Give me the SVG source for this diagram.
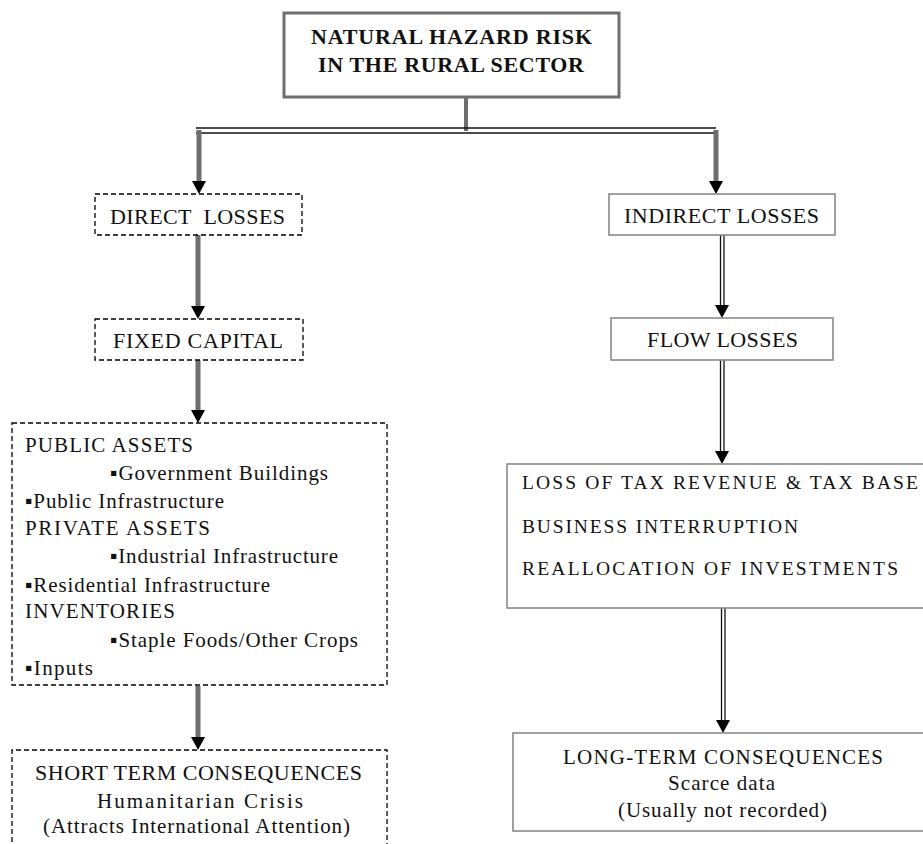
<svg xmlns="http://www.w3.org/2000/svg" width="923" height="844" viewBox="0 0 923 844">
<style>
  text { font-family: "Liberation Serif", "Times New Roman", serif; fill: #111; }
  .title { font-size: 22px; font-weight: bold; }
  .lbl { font-size: 22px; }
  .item { font-size: 21px; }
  .loss { font-size: 19.5px; }
  .lt { font-size: 21px; }
  .dash { fill: #fff; stroke: #000; stroke-width: 1.3; stroke-dasharray: 5 3; }
  .solid { fill: #fff; stroke: #8a8a8a; stroke-width: 1.6; }
  .thick { stroke: #6e6e6e; stroke-width: 5; fill: none; }
  .thin { stroke: #111; stroke-width: 1.3; fill: none; }
  .head { fill: #000; }
</style>
<rect width="923" height="844" fill="#fff"/>

<g id="connectors">
  <line class="thick" x1="466" y1="97" x2="466" y2="131" style="stroke-width:4"/>
  <line class="thin" x1="196" y1="128" x2="716" y2="128"/>
  <line class="thin" x1="196" y1="133" x2="716" y2="133"/>
  <line class="thick" x1="199" y1="130" x2="199" y2="182"/>
  <polygon class="head" points="192,181 206,181 199,194"/>
  <line class="thick" x1="198" y1="235" x2="198" y2="307"/>
  <polygon class="head" points="191,306 205,306 198,319"/>
  <line class="thick" x1="198" y1="360" x2="198" y2="411"/>
  <polygon class="head" points="191,410 205,410 198,423"/>
  <line class="thick" x1="198" y1="686" x2="198" y2="738"/>
  <polygon class="head" points="191,737 205,737 198,750"/>
  <line class="thick" x1="716" y1="130" x2="716" y2="182"/>
  <polygon class="head" points="709,181 723,181 716,194"/>
  <line class="thin" x1="720.5" y1="235" x2="720.5" y2="306"/>
  <line class="thin" x1="724" y1="235" x2="724" y2="306"/>
  <polygon class="head" points="715,305 729,305 722,318"/>
  <line class="thin" x1="720.5" y1="360" x2="720.5" y2="452"/>
  <line class="thin" x1="724" y1="360" x2="724" y2="452"/>
  <polygon class="head" points="715,451 729,451 722,464"/>
  <line class="thin" x1="721.5" y1="608" x2="721.5" y2="721"/>
  <line class="thin" x1="725" y1="608" x2="725" y2="721"/>
  <polygon class="head" points="716,720 730,720 723,733"/>
</g>

<g id="root">
  <rect x="284" y="13" width="335" height="84" fill="#fff" stroke="#6e6e6e" stroke-width="3"/>
  <text class="title" x="311" y="44" textLength="281" lengthAdjust="spacing">NATURAL HAZARD RISK</text>
  <text class="title" x="318" y="72" textLength="266" lengthAdjust="spacing">IN THE RURAL SECTOR</text>
</g>

<g id="direct-losses">
  <rect class="dash" x="95" y="194" width="207" height="41"/>
  <text class="lbl" x="110" y="224" textLength="175" lengthAdjust="spacing" xml:space="preserve">DIRECT  LOSSES</text>
</g>

<g id="fixed-capital">
  <rect class="dash" x="95" y="319" width="208" height="41"/>
  <text class="lbl" x="113" y="348" textLength="170" lengthAdjust="spacing">FIXED CAPITAL</text>
</g>

<g id="assets">
  <rect class="dash" x="12" y="423" width="375" height="262"/>
  <text class="item" x="25" y="452" textLength="168" lengthAdjust="spacing">PUBLIC ASSETS</text>
  <text class="item" x="110" y="480" textLength="218" lengthAdjust="spacing">▪Government Buildings</text>
  <text class="item" x="25" y="508" textLength="199" lengthAdjust="spacing">▪Public Infrastructure</text>
  <text class="item" x="25" y="535" textLength="185" lengthAdjust="spacing">PRIVATE ASSETS</text>
  <text class="item" x="110" y="563" textLength="228" lengthAdjust="spacing">▪Industrial Infrastructure</text>
  <text class="item" x="25" y="592" textLength="245" lengthAdjust="spacing">▪Residential Infrastructure</text>
  <text class="item" x="25" y="618" textLength="150" lengthAdjust="spacing">INVENTORIES</text>
  <text class="item" x="110" y="647" textLength="248" lengthAdjust="spacing">▪Staple Foods/Other Crops</text>
  <text class="item" x="25" y="675" textLength="68" lengthAdjust="spacing">▪Inputs</text>
</g>

<g id="short-term">
  <path class="dash" d="M12,850 L12,750 L387,750 L387,850"/>
  <text class="lbl" x="35" y="780" textLength="327" lengthAdjust="spacing">SHORT TERM CONSEQUENCES</text>
  <text class="item" x="97" y="808" textLength="206" lengthAdjust="spacing">Humanitarian Crisis</text>
  <text class="item" x="43" y="833" textLength="307" lengthAdjust="spacing">(Attracts International Attention)</text>
</g>

<g id="indirect-losses">
  <rect class="solid" x="609" y="194" width="226" height="41"/>
  <text class="lbl" x="624" y="223" textLength="195" lengthAdjust="spacing">INDIRECT LOSSES</text>
</g>

<g id="flow-losses">
  <rect class="solid" x="611" y="318" width="222" height="42"/>
  <text class="lbl" x="647" y="347" textLength="151" lengthAdjust="spacing">FLOW LOSSES</text>
</g>

<g id="flow-effects">
  <rect class="solid" x="507" y="464" width="430" height="144"/>
  <text class="loss" x="522" y="489" textLength="396" lengthAdjust="spacing">LOSS OF TAX REVENUE &amp; TAX BASE</text>
  <text class="loss" x="522" y="533" textLength="276" lengthAdjust="spacing">BUSINESS INTERRUPTION</text>
  <text class="loss" x="522" y="575" textLength="376" lengthAdjust="spacing">REALLOCATION OF INVESTMENTS</text>
</g>

<g id="long-term">
  <rect class="solid" x="513" y="733" width="430" height="98"/>
  <text class="lt" x="563" y="764" textLength="320" lengthAdjust="spacing">LONG-TERM CONSEQUENCES</text>
  <text class="item" x="668" y="790" textLength="107" lengthAdjust="spacing">Scarce data</text>
  <text class="item" x="618" y="817" textLength="209" lengthAdjust="spacing">(Usually not recorded)</text>
</g>
</svg>
